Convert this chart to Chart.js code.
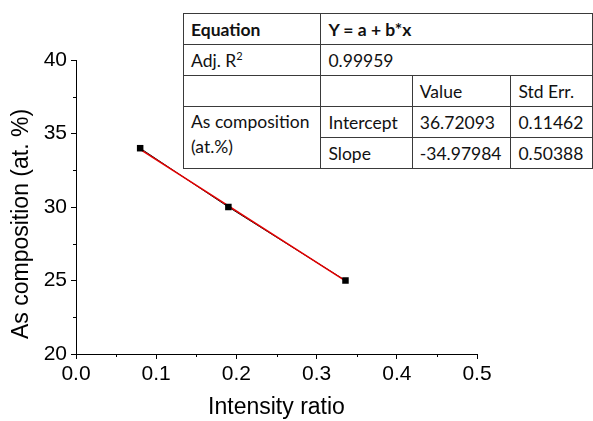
<!DOCTYPE html>
<html>
<head>
<meta charset="utf-8">
<script src="https://cdn.jsdelivr.net/npm/chart.js@4/dist/chart.umd.min.js"></script>
<style>
  body { margin: 0; background: #fff; }
  #wrap { position: relative; width: 593px; height: 421px; }
  #fitTable {
    position: absolute; left: 183px; top: 13px;
    border-collapse: collapse; font-family: Lato, "Open Sans", sans-serif;
    font-size: 17.5px; color: #111; background: #fff; table-layout: fixed;
  }
  #fitTable td {
    border: 1px solid #3a3a3a; padding: 0 0 0 7px; height: 30px;
    white-space: nowrap; vertical-align: middle; overflow: hidden;
  }
  #fitTable td.merged { line-height: 25px; vertical-align: top; padding-top: 2px; }
</style>
</head>
<body>
<div id="wrap">
  <canvas id="fitChart"></canvas>
  <table id="fitTable"></table>
</div>
<script>
  // measured points
  const intensityRatio = [0.08, 0.19, 0.336];
  const asComposition = [34.0, 30.0, 25.0];

  // linear fit line ends
  const fitX = [0.08, 0.336];
  const fitY = [33.92, 24.97];

  // fit summary table
  const equationText = 'Y = a + b*x';
  const adjR2 = '0.99959';
  const fitParams = ['Intercept', 'Slope'];
  const fitValues = ['36.72093', '-34.97984'];
  const fitErrors = ['0.11462', '0.50388'];

  const xTicks = { min: 0, max: 0.5, step: 0.1 };
  const yTicks = { min: 20, max: 40, step: 5 };

  const toPoints = (xs, ys) => xs.map((x, i) => ({ x: x, y: ys[i] }));

  // build the table
  const table = document.getElementById('fitTable');
  table.innerHTML =
    `<colgroup><col style="width:138px"><col style="width:92px"><col style="width:99px"><col style="width:82px"></colgroup>` +
    `<tr><td><b>Equation</b></td><td colspan="3"><b>${equationText}</b></td></tr>` +
    `<tr><td>Adj. R<sup style="font-size:11px">2</sup></td><td colspan="3">${adjR2}</td></tr>` +
    `<tr><td></td><td></td><td>Value</td><td>Std Err.</td></tr>` +
    `<tr><td rowspan="2" class="merged">As composition<br>(at.%)</td><td>${fitParams[0]}</td><td>${fitValues[0]}</td><td>${fitErrors[0]}</td></tr>` +
    `<tr><td>${fitParams[1]}</td><td>${fitValues[1]}</td><td>${fitErrors[1]}</td></tr>`;

  const axisFont = 'Liberation Sans, Arial, sans-serif';

  // minor ticks halfway between majors + rotated y title
  const extras = {
    id: 'extras',
    afterDraw(chart) {
      const ctx = chart.ctx;
      const xs = chart.scales.x, ys = chart.scales.y;
      ctx.save();
      ctx.strokeStyle = '#000';
      ctx.lineWidth = 1;
      ctx.beginPath();
      for (let v = xTicks.min + xTicks.step / 2; v < xTicks.max; v += xTicks.step) {
        const px = Math.round(xs.getPixelForValue(v)) + 0.5;
        ctx.moveTo(px, ys.bottom);
        ctx.lineTo(px, ys.bottom + 3);
      }
      for (let v = yTicks.min + yTicks.step / 2; v < yTicks.max; v += yTicks.step) {
        const py = Math.round(ys.getPixelForValue(v)) + 0.5;
        ctx.moveTo(xs.left, py);
        ctx.lineTo(xs.left - 3, py);
      }
      ctx.stroke();

      ctx.translate(22, 224);
      ctx.rotate(-Math.PI / 2);
      ctx.fillStyle = '#000';
      ctx.font = '23px ' + axisFont;
      ctx.textAlign = 'center';
      ctx.textBaseline = 'middle';
      ctx.fillText('As composition (at. %)', 0, 0);
      ctx.restore();
    }
  };

  new Chart(document.getElementById('fitChart'), {
    type: 'scatter',
    data: {
      datasets: [
        {
          label: 'data',
          data: toPoints(intensityRatio, asComposition),
          showLine: false,
          pointStyle: 'rect',
          pointRadius: 4.6,
          backgroundColor: '#000',
          borderColor: '#000',
          borderWidth: 0
        },
        {
          label: 'fit',
          data: toPoints(fitX, fitY),
          showLine: true,
          borderColor: '#e00000',
          borderWidth: 1.6,
          pointRadius: 0
        },
        {
          label: 'line',
          data: toPoints(intensityRatio, asComposition),
          showLine: true,
          borderColor: '#000',
          borderWidth: 1,
          pointRadius: 0
        }
      ]
    },
    options: {
      responsive: true,
      maintainAspectRatio: false,
      animation: false,
      layout: { padding: { left: 0, right: 116, top: 60, bottom: 0 } },
      scales: {
        x: {
          type: 'linear',
          min: xTicks.min,
          max: xTicks.max,
          afterFit: s => { s.height = 67; },
          ticks: {
            stepSize: xTicks.step,
            color: '#000',
            padding: 3,
            font: { family: axisFont, size: 21 },
            callback: v => v.toFixed(1)
          },
          grid: { drawOnChartArea: false, tickLength: 5, tickColor: '#000' },
          border: { display: true, color: '#000', width: 1 },
          title: {
            display: true,
            text: 'Intensity ratio',
            color: '#000',
            font: { family: axisFont, size: 23 },
            padding: { top: 0, bottom: 0 }
          }
        },
        y: {
          min: yTicks.min,
          max: yTicks.max,
          afterFit: s => { s.width = 76; },
          ticks: {
            stepSize: yTicks.step,
            color: '#000',
            padding: 4,
            font: { family: axisFont, size: 21 }
          },
          grid: { drawOnChartArea: false, tickLength: 5, tickColor: '#000' },
          border: { display: true, color: '#000', width: 1 }
        }
      },
      plugins: {
        legend: { display: false },
        tooltip: { enabled: false }
      }
    },
    plugins: [extras]
  });
</script>
</body>
</html>
